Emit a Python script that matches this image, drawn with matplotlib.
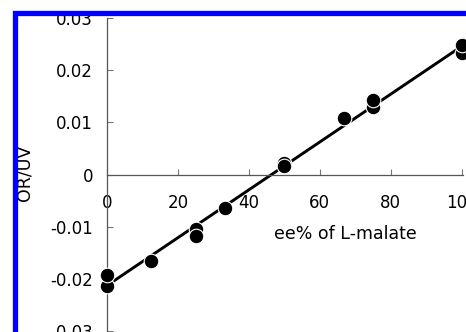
import numpy as np
import matplotlib
matplotlib.use("Agg")
import matplotlib.pyplot as plt
from matplotlib.patches import Rectangle

# measured points (two runs at several ee values)
ee = [0, 0, 12.5, 25, 25, 33.3, 50, 50, 66.7, 75, 75, 100, 100]
oruv = [-0.0213, -0.0192, -0.0165, -0.0105, -0.0118, -0.0064,
        0.0022, 0.0017, 0.0108, 0.0129, 0.0143, 0.0233, 0.0248]

xticks = [0, 20, 40, 60, 80, 100]
yticks = [-0.03, -0.02, -0.01, 0, 0.01, 0.02, 0.03]
ytick_labels = ['-0.03', '-0.02', '-0.01', '0', '0.01', '0.02', '0.03']

plt.rcParams['axes.unicode_minus'] = False
plt.rcParams['font.family'] = 'DejaVu Sans'

W, H = 466, 332
fig = plt.figure(figsize=(W / 100, H / 100), dpi=100)

# axes box in pixels: x 107..462.5, y 18..331 (from top)
left, right, top, bottom = 107, 462.5, 18, 331
ax = fig.add_axes([left / W, 1 - bottom / H, (right - left) / W, (bottom - top) / H])

# linear fit
slope, icept = np.polyfit(ee, oruv, 1)
xf = np.array([0, 100])
ax.plot(xf, slope * xf + icept, color='black', lw=2.1, zorder=2, clip_on=False)
ax.plot(ee, oruv, 'o', ms=10.5, mfc='black', mec='white', mew=0.8,
        zorder=3, clip_on=False)

ax.set_xlim(0, 100.2)
ax.set_ylim(-0.03, 0.03)

for s in ['top', 'right']:
    ax.spines[s].set_visible(False)
ax.spines['bottom'].set_position(('data', 0))
ax.spines['left'].set_position(('data', 0))
for s in ['bottom', 'left']:
    ax.spines[s].set_color('#555555')
    ax.spines[s].set_linewidth(0.9)

ax.set_xticks(xticks)
ax.set_yticks(yticks)
ax.set_yticklabels(ytick_labels)
ax.tick_params(axis='both', direction='in', length=4, width=0.8,
               color='#777777', labelsize=12)
ax.tick_params(axis='y', pad=10)
ax.tick_params(axis='x', pad=14)

ax.set_xlabel('ee% of L-malate', fontsize=12.5, va='center')
ax.xaxis.set_label_coords((345.5 - left) / (right - left), (bottom - 234) / (bottom - top))
ax.set_ylabel('OR/UV', fontsize=12.5, va='center')
ax.yaxis.set_label_coords((24 - left) / (right - left), (bottom - 173) / (bottom - top))

# blue frame around the (cropped) figure
fig.patches.append(Rectangle((14.5 / W, -0.2), 1.5, 1.2 - 12.5 / H,
                             transform=fig.transFigure, fill=False,
                             edgecolor='#0000ff', lw=3.8, zorder=10))

fig.savefig('out.png', dpi=100)
